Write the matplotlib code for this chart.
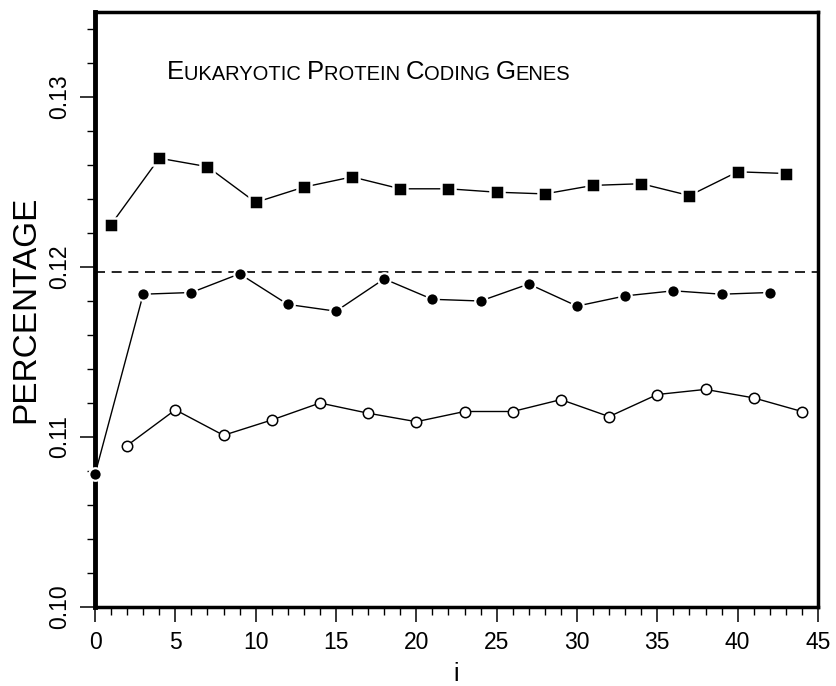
import matplotlib
matplotlib.use("Agg")
import matplotlib.pyplot as plt
import numpy as np
from matplotlib.ticker import MultipleLocator

plt.rcParams['font.family'] = ['Liberation Sans', 'DejaVu Sans']

# filled squares
sq_x = [1, 4, 7, 10, 13, 16, 19, 22, 25, 28, 31, 34, 37, 40, 43]
sq_y = [0.1225, 0.1264, 0.1259, 0.1238, 0.1247, 0.1253, 0.1246, 0.1246,
        0.1244, 0.1243, 0.1248, 0.1249, 0.1242, 0.1256, 0.1255]

# filled circles
fc_x = [0, 3, 6, 9, 12, 15, 18, 21, 24, 27, 30, 33, 36, 39, 42]
fc_y = [0.1078, 0.1184, 0.1185, 0.1196, 0.1178, 0.1174, 0.1193, 0.1181,
        0.1180, 0.1190, 0.1177, 0.1183, 0.1186, 0.1184, 0.1185]

# open circles
oc_x = [2, 5, 8, 11, 14, 17, 20, 23, 26, 29, 32, 35, 38, 41, 44]
oc_y = [0.1095, 0.1116, 0.1101, 0.1110, 0.1120, 0.1114, 0.1109, 0.1115,
        0.1115, 0.1122, 0.1112, 0.1125, 0.1128, 0.1123, 0.1115]

ref_level = 0.1197

fig = plt.figure(figsize=(8.36, 6.86), dpi=100)
ax = fig.add_axes([95 / 836, 79 / 686, 723 / 836, 595 / 686])

ax.axhline(ref_level, color='black', lw=1.2, ls=(0, (6, 4)), zorder=1)

ax.plot(sq_x, sq_y, color='black', lw=1.0, zorder=2)
ax.plot(sq_x, sq_y, ls='none', marker='s', ms=10.5, mfc='black',
        mec='white', mew=1.8, zorder=3)

ax.plot(fc_x, fc_y, color='black', lw=1.0, zorder=2)
ax.plot(fc_x, fc_y, ls='none', marker='o', ms=9, mfc='black',
        mec='white', mew=1.6, zorder=3, clip_on=False)

ax.plot(oc_x, oc_y, color='black', lw=1.0, marker='o', ms=7.5,
        mfc='white', mec='black', mew=1.1, zorder=3)

ax.set_xlim(0, 45)
ax.set_ylim(0.10, 0.135)

ax.xaxis.set_major_locator(MultipleLocator(5))
ax.xaxis.set_minor_locator(MultipleLocator(1))
ax.yaxis.set_major_locator(MultipleLocator(0.01))
ax.yaxis.set_minor_locator(MultipleLocator(0.002))
ax.yaxis.set_major_formatter(plt.FuncFormatter(lambda v, p: '%.2f' % v))

ax.tick_params(which='major', direction='out', length=11, width=1.1,
               labelsize=16.5, pad=6)
ax.tick_params(which='minor', direction='out', length=6, width=1.0)
ax.tick_params(axis='y', labelrotation=90, pad=6)
for lab in ax.get_yticklabels():
    lab.set_va('center')

for side, lw in (('left', 3.5), ('bottom', 2.5), ('right', 2.5), ('top', 2.5)):
    ax.spines[side].set_linewidth(lw)

ax.set_ylabel('PERCENTAGE', fontsize=24, labelpad=5)
ax.set_xlabel('i', fontsize=18, labelpad=6)

# small-caps style title built from pieces
pieces = [('E', 18.5), ('UKARYOTIC ', 14.5), ('P', 18.5), ('ROTEIN ', 14.5),
          ('C', 18.5), ('ODING ', 14.5), ('G', 18.5), ('ENES', 14.5)]
prev = ax.text(167 / 836, 602 / 686, pieces[0][0], fontsize=pieces[0][1],
               transform=fig.transFigure, va='bottom')
for txt, size in pieces[1:]:
    prev = ax.annotate(txt, xy=(1, 0), xycoords=prev, fontsize=size,
                       va='bottom', ha='left')

fig.savefig('out.png', dpi=100)
